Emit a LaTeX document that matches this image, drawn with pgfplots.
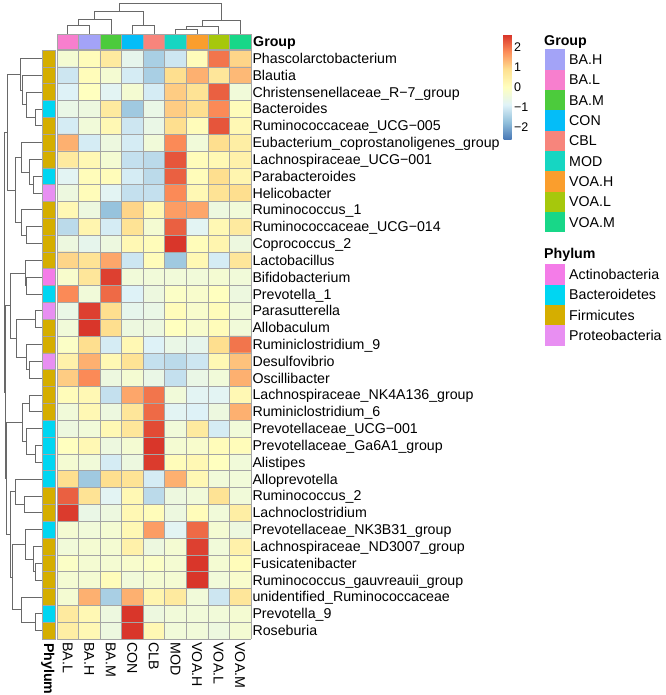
\documentclass[border=0pt]{standalone}
\usepackage{pgfplots}
\pgfplotsset{compat=1.18}
\usepackage{fontspec}
\setmainfont{Liberation Sans}
\definecolor{cellborder}{RGB}{165,165,165}
\definecolor{dendro}{RGB}{105,105,105}
\definecolor{gBAL}{HTML}{F77FCE}
\definecolor{gBAH}{HTML}{A3A3F7}
\definecolor{gBAM}{HTML}{4CCB3C}
\definecolor{gCON}{HTML}{04BDF8}
\definecolor{gCBL}{HTML}{F7857C}
\definecolor{gMOD}{HTML}{16D6C2}
\definecolor{gVOAH}{HTML}{FA9E2D}
\definecolor{gVOAL}{HTML}{A6C80C}
\definecolor{gVOAM}{HTML}{18D788}
\definecolor{pAct}{HTML}{F47CE8}
\definecolor{pBac}{HTML}{00D6F2}
\definecolor{pFir}{HTML}{D5AE00}
\definecolor{pPro}{HTML}{E88FF2}
\newcommand{\lab}{\fontsize{14.2bp}{17bp}\selectfont}
\newcommand{\cbl}{\fontsize{12.5bp}{15bp}\selectfont}
\pgfplotsset{
  blank/.style={hide axis, clip=false, scale only axis, anchor=south west},
  dend/.style={draw=dendro, line width=0.75bp},
}
\begin{document}
\begin{tikzpicture}
\useasboundingbox (0,0) rectangle (666bp,695bp);
% ---------------- heatmap ----------------
\begin{axis}[
  at={(57bp,56bp)}, anchor=south west, scale only axis, width=194bp, height=589bp,
  xmin=0.5, xmax=9.5, ymin=0.5, ymax=35.5, y dir=reverse,
  axis line style={draw=none}, major tick length=0pt, minor tick length=0pt,
  axis on top,
  minor xtick={0.5,1.5,...,9.5}, minor ytick={0.5,1.5,...,35.5},
  minor grid style={draw=cellborder, line width=0.6bp}, grid=minor,
  xtick={1,...,9}, xticklabels={BA.L,BA.H,BA.M,CON,CLB,MOD,VOA.H,VOA.L,VOA.M},
  xticklabel style={rotate=-90, anchor=west, font=\lab, text height=10bp, text depth=0bp},
  ytick={1,...,35}, yticklabel pos=right,
  yticklabels={Phascolarctobacterium,Blautia,Christensenellaceae\_R−7\_group,Bacteroides,Ruminococcaceae\_UCG−005,Eubacterium\_coprostanoligenes\_group,Lachnospiraceae\_UCG−001,Parabacteroides,Helicobacter,Ruminococcus\_1,Ruminococcaceae\_UCG−014,Coprococcus\_2,Lactobacillus,Bifidobacterium,Prevotella\_1,Parasutterella,Allobaculum,Ruminiclostridium\_9,Desulfovibrio,Oscillibacter,Lachnospiraceae\_NK4A136\_group,Ruminiclostridium\_6,Prevotellaceae\_UCG−001,Prevotellaceae\_Ga6A1\_group,Alistipes,Alloprevotella,Ruminococcus\_2,Lachnoclostridium,Prevotellaceae\_NK3B31\_group,Lachnospiraceae\_ND3007\_group,Fusicatenibacter,Ruminococcus\_gauvreauii\_group,unidentified\_Ruminococcaceae,Prevotella\_9,Roseburia},
  yticklabel style={anchor=west, font=\lab, text height=10bp, text depth=0bp, xshift=-2bp},
  colormap={rdylbu}{rgb255=(69,117,180) rgb255=(145,191,219) rgb255=(224,243,248) rgb255=(255,255,191) rgb255=(254,224,144) rgb255=(252,141,89) rgb255=(215,48,39)},
  point meta min=-2.65, point meta max=2.65,
  colorbar,
  colorbar style={
    at={(parent axis.north west)}, anchor=north west, xshift=438bp, yshift=16bp,
    width=8bp, height=106bp, scale only axis, grid=none,
    ytick={-2,-1,0,1,2}, yticklabels={−2,−1,0,1,2}, minor ytick={},
    major tick length=0pt, axis line style={draw=none},
    yticklabel style={font=\cbl, xshift=-1bp},
  },
]
\addplot[matrix plot*, mesh/cols=9, point meta=explicit] coordinates {
(1,1)[-0.3] (2,1)[0.1] (3,1)[0.6] (4,1)[-0.7] (5,1)[-1.5] (6,1)[-1.1] (7,1)[0.1] (8,1)[2.0] (9,1)[1.0]
(1,2)[-1.1] (2,2)[0.1] (3,2)[-0.3] (4,2)[-1.0] (5,2)[-1.5] (6,2)[0.9] (7,2)[1.4] (8,2)[0.7] (9,2)[1.3]
(1,3)[-0.9] (2,3)[0.0] (3,3)[-0.8] (4,3)[-0.3] (5,3)[-1.0] (6,3)[1.1] (7,3)[0.8] (8,3)[2.2] (9,3)[-0.4]
(1,4)[-0.6] (2,4)[-0.5] (3,4)[0.6] (4,4)[-1.6] (5,4)[-0.6] (6,4)[1.1] (7,4)[0.9] (8,4)[1.8] (9,4)[0.1]
(1,5)[-1.0] (2,5)[-0.4] (3,5)[0.2] (4,5)[-1.1] (5,5)[-0.6] (6,5)[0.9] (7,5)[0.1] (8,5)[2.3] (9,5)[0.2]
(1,6)[1.4] (2,6)[-1.0] (3,6)[-0.5] (4,6)[-1.0] (5,6)[-0.4] (6,6)[1.8] (7,6)[-0.4] (8,6)[0.9] (9,6)[0.5]
(1,7)[0.6] (2,7)[0.2] (3,7)[-0.3] (4,7)[-1.2] (5,7)[-1.3] (6,7)[2.3] (7,7)[0.1] (8,7)[0.2] (9,7)[0.4]
(1,8)[-0.8] (2,8)[0.1] (3,8)[0.1] (4,8)[-1.0] (5,8)[-1.3] (6,8)[2.2] (7,8)[0.1] (8,8)[0.9] (9,8)[0.3]
(1,9)[-0.5] (2,9)[0.1] (3,9)[-0.8] (4,9)[-1.2] (5,9)[-1.2] (6,9)[1.8] (7,9)[0.2] (8,9)[0.8] (9,9)[0.9]
(1,10)[0.2] (2,10)[-0.5] (3,10)[-1.7] (4,10)[1.0] (5,10)[0.2] (6,10)[1.6] (7,10)[1.5] (8,10)[-0.5] (9,10)[-0.4]
(1,11)[-1.3] (2,11)[0.3] (3,11)[-1.0] (4,11)[0.8] (5,11)[-0.3] (6,11)[2.2] (7,11)[-0.8] (8,11)[0.2] (9,11)[0.6]
(1,12)[-0.5] (2,12)[-0.7] (3,12)[-0.5] (4,12)[0.2] (5,12)[0.1] (6,12)[2.6] (7,12)[0.1] (8,12)[0.3] (9,12)[-0.5]
(1,13)[1.0] (2,13)[0.8] (3,13)[1.5] (4,13)[-1.1] (5,13)[0.1] (6,13)[-1.6] (7,13)[0.2] (8,13)[-1.0] (9,13)[0.7]
(1,14)[-0.2] (2,14)[0.7] (3,14)[2.5] (4,14)[-0.4] (5,14)[-0.4] (6,14)[-0.4] (7,14)[-0.4] (8,14)[-0.3] (9,14)[-0.4]
(1,15)[1.8] (2,15)[-0.4] (3,15)[2.1] (4,15)[-0.9] (5,15)[-0.5] (6,15)[-0.1] (7,15)[-0.2] (8,15)[0.0] (9,15)[-0.5]
(1,16)[-0.6] (2,16)[2.5] (3,16)[0.9] (4,16)[-0.7] (5,16)[-0.6] (6,16)[0.1] (7,16)[-0.2] (8,16)[0.1] (9,16)[-0.4]
(1,17)[-0.4] (2,17)[2.6] (3,17)[0.9] (4,17)[-0.5] (5,17)[-0.5] (6,17)[0.0] (7,17)[-0.2] (8,17)[0.1] (9,17)[-0.4]
(1,18)[-0.1] (2,18)[0.9] (3,18)[-1.0] (4,18)[0.2] (5,18)[-0.9] (6,18)[-0.6] (7,18)[-0.7] (8,18)[0.9] (9,18)[2.0]
(1,19)[0.4] (2,19)[1.4] (3,19)[0.2] (4,19)[0.8] (5,19)[-1.2] (6,19)[-1.3] (7,19)[-1.1] (8,19)[0.2] (9,19)[1.2]
(1,20)[1.1] (2,20)[1.8] (3,20)[-0.5] (4,20)[-0.3] (5,20)[-0.6] (6,20)[-1.2] (7,20)[-0.6] (8,20)[-0.4] (9,20)[1.4]
(1,21)[0.1] (2,21)[0.2] (3,21)[-1.2] (4,21)[1.5] (5,21)[2.0] (6,21)[-0.4] (7,21)[-0.8] (8,21)[-0.8] (9,21)[0.2]
(1,22)[-0.4] (2,22)[0.2] (3,22)[-0.5] (4,22)[0.7] (5,22)[2.1] (6,22)[-0.8] (7,22)[-0.9] (8,22)[-0.5] (9,22)[1.4]
(1,23)[-0.5] (2,23)[-0.4] (3,23)[0.2] (4,23)[0.7] (5,23)[2.4] (6,23)[-0.4] (7,23)[0.6] (8,23)[-1.0] (9,23)[-0.4]
(1,24)[0.0] (2,24)[0.2] (3,24)[-0.5] (4,24)[-0.3] (5,24)[2.6] (6,24)[-0.3] (7,24)[-0.2] (8,24)[0.1] (9,24)[0.1]
(1,25)[-0.3] (2,25)[-0.4] (3,25)[-1.0] (4,25)[-0.5] (5,25)[2.55] (6,25)[0.1] (7,25)[0.2] (8,25)[0.0] (9,25)[-0.4]
(1,26)[0.9] (2,26)[-1.6] (3,26)[0.9] (4,26)[0.8] (5,26)[-1.0] (6,26)[1.4] (7,26)[0.2] (8,26)[-0.4] (9,26)[-0.4]
(1,27)[2.2] (2,27)[0.8] (3,27)[-0.8] (4,27)[0.2] (5,27)[-1.3] (6,27)[-0.5] (7,27)[-0.4] (8,27)[0.8] (9,27)[-0.4]
(1,28)[2.55] (2,28)[-0.6] (3,28)[-0.5] (4,28)[0.2] (5,28)[0.1] (6,28)[-0.5] (7,28)[0.1] (8,28)[-0.4] (9,28)[0.5]
(1,29)[-0.3] (2,29)[-0.4] (3,29)[-0.3] (4,29)[0.2] (5,29)[1.6] (6,29)[-0.8] (7,29)[2.1] (8,29)[-0.3] (9,29)[-0.5]
(1,30)[-0.4] (2,30)[-0.3] (3,30)[-0.3] (4,30)[0.4] (5,30)[-0.5] (6,30)[-0.3] (7,30)[2.5] (8,30)[-0.4] (9,30)[0.4]
(1,31)[-0.1] (2,31)[-0.3] (3,31)[-0.3] (4,31)[-0.2] (5,31)[-0.1] (6,31)[-0.3] (7,31)[2.6] (8,31)[-0.3] (9,31)[0.1]
(1,32)[-0.3] (2,32)[-0.3] (3,32)[0.1] (4,32)[-0.4] (5,32)[-0.3] (6,32)[-0.3] (7,32)[2.6] (8,32)[-0.4] (9,32)[-0.2]
(1,33)[-0.3] (2,33)[1.4] (3,33)[-1.5] (4,33)[1.4] (5,33)[0.3] (6,33)[0.6] (7,33)[-0.4] (8,33)[-1.1] (9,33)[0.7]
(1,34)[0.6] (2,34)[0.2] (3,34)[-0.5] (4,34)[2.6] (5,34)[-0.5] (6,34)[-0.4] (7,34)[-0.4] (8,34)[-0.4] (9,34)[-0.3]
(1,35)[0.5] (2,35)[0.2] (3,35)[-0.5] (4,35)[2.6] (5,35)[0.2] (6,35)[-0.4] (7,35)[-0.4] (8,35)[-0.5] (9,35)[-0.3]
};
\end{axis}
% ---------------- group annotation ----------------
\begin{axis}[blank, at={(57bp,646bp)}, width=194bp, height=15bp,
  xmin=0.5, xmax=9.5, ymin=0, ymax=1, ybar, bar width=1, bar shift=0pt]
\addplot[fill=gBAL, draw=cellborder, line width=0.6bp] coordinates {(1,1)};
\addplot[fill=gBAH, draw=cellborder, line width=0.6bp] coordinates {(2,1)};
\addplot[fill=gBAM, draw=cellborder, line width=0.6bp] coordinates {(3,1)};
\addplot[fill=gCON, draw=cellborder, line width=0.6bp] coordinates {(4,1)};
\addplot[fill=gCBL, draw=cellborder, line width=0.6bp] coordinates {(5,1)};
\addplot[fill=gMOD, draw=cellborder, line width=0.6bp] coordinates {(6,1)};
\addplot[fill=gVOAH, draw=cellborder, line width=0.6bp] coordinates {(7,1)};
\addplot[fill=gVOAL, draw=cellborder, line width=0.6bp] coordinates {(8,1)};
\addplot[fill=gVOAM, draw=cellborder, line width=0.6bp] coordinates {(9,1)};
\end{axis}
% ---------------- phylum annotation ----------------
\begin{axis}[blank, at={(42bp,56bp)}, width=13bp, height=589bp,
  xmin=0, xmax=1, ymin=0.5, ymax=35.5, y dir=reverse, xbar, bar width=1, bar shift=0pt]
\addplot[fill=pFir, draw=cellborder, line width=0.6bp] coordinates {(1,1)(1,2)(1,3)(1,5)(1,6)(1,7)(1,10)(1,11)(1,12)(1,13)(1,17)(1,18)(1,20)(1,21)(1,22)(1,27)(1,28)(1,30)(1,31)(1,32)(1,33)(1,35)};
\addplot[fill=pBac, draw=cellborder, line width=0.6bp] coordinates {(1,4)(1,8)(1,15)(1,23)(1,24)(1,25)(1,26)(1,29)(1,34)};
\addplot[fill=pPro, draw=cellborder, line width=0.6bp] coordinates {(1,9)(1,16)(1,19)};
\addplot[fill=pAct, draw=cellborder, line width=0.6bp] coordinates {(1,14)};
\end{axis}
% ---------------- row dendrogram ----------------
\begin{axis}[blank, at={(0bp,56bp)}, width=42bp, height=589bp,
  xmin=0, xmax=42, ymin=0.5, ymax=35.5, y dir=reverse]
\addplot[dend] coordinates {(42,4)(35,4)(35,5)(42,5)};
\addplot[dend] coordinates {(42,3)(26.7,3)(26.7,4.5)(35,4.5)};
\addplot[dend] coordinates {(42,2)(22.7,2)(22.7,3.75)(26.7,3.75)};
\addplot[dend] coordinates {(42,1)(20.7,1)(20.7,2.875)(22.7,2.875)};
\addplot[dend] coordinates {(42,8)(33.3,8)(33.3,9)(42,9)};
\addplot[dend] coordinates {(42,7)(29.3,7)(29.3,8.5)(33.3,8.5)};
\addplot[dend] coordinates {(42,6)(21.7,6)(21.7,7.75)(29.3,7.75)};
\addplot[dend] coordinates {(42,11)(26.7,11)(26.7,12)(42,12)};
\addplot[dend] coordinates {(42,10)(21,10)(21,11.5)(26.7,11.5)};
\addplot[dend] coordinates {(21.7,6.875)(15,6.875)(15,10.75)(21,10.75)};
\addplot[dend] coordinates {(20.7,1.9375)(7.3,1.9375)(7.3,8.8125)(15,8.8125)};
\addplot[dend] coordinates {(42,14)(26,14)(26,15)(42,15)};
\addplot[dend] coordinates {(42,13)(25,13)(25,14.5)(26,14.5)};
\addplot[dend] coordinates {(42,16)(35,16)(35,17)(42,17)};
\addplot[dend] coordinates {(42,19)(29.3,19)(29.3,20)(42,20)};
\addplot[dend] coordinates {(42,18)(26,18)(26,19.5)(29.3,19.5)};
\addplot[dend] coordinates {(35,16.5)(16.7,16.5)(16.7,18.75)(26,18.75)};
\addplot[dend] coordinates {(25,13.75)(10,13.75)(10,17.625)(16.7,17.625)};
\addplot[dend] coordinates {(42,21)(29.3,21)(29.3,22)(42,22)};
\addplot[dend] coordinates {(42,24)(35,24)(35,25)(42,25)};
\addplot[dend] coordinates {(42,23)(26.7,23)(26.7,24.5)(35,24.5)};
\addplot[dend] coordinates {(29.3,21.5)(22.7,21.5)(22.7,23.75)(26.7,23.75)};
\addplot[dend] coordinates {(42,27)(24,27)(24,28)(42,28)};
\addplot[dend] coordinates {(42,26)(15,26)(15,27.5)(24,27.5)};
\addplot[dend] coordinates {(42,31)(35,31)(35,32)(42,32)};
\addplot[dend] coordinates {(42,30)(33.3,30)(33.3,31.5)(35,31.5)};
\addplot[dend] coordinates {(42,29)(25,29)(25,30.75)(33.3,30.75)};
\addplot[dend] coordinates {(42,34)(35,34)(35,35)(42,35)};
\addplot[dend] coordinates {(42,33)(21.7,33)(21.7,34.5)(35,34.5)};
\addplot[dend] coordinates {(25,29.875)(12,29.875)(12,33.75)(21.7,33.75)};
\addplot[dend] coordinates {(15,26.75)(10,26.75)(10,31.8125)(12,31.8125)};
\addplot[dend] coordinates {(22.7,22.625)(6,22.625)(6,29.28)(10,29.28)};
\addplot[dend] coordinates {(10,15.6875)(5.3,15.6875)(5.3,25.95)(6,25.95)};
\addplot[dend] coordinates {(7.3,5.375)(4,5.375)(4,20.82)(5.3,20.82)};
\end{axis}
% ---------------- column dendrogram ----------------
\begin{axis}[blank, at={(57bp,661bp)}, width=194bp, height=34bp,
  xmin=0.5, xmax=9.5, ymin=0, ymax=34, y dir=reverse]
\addplot[dend] coordinates {(1,34)(1,25)(2,25)(2,34)};
\addplot[dend] coordinates {(1.5,25)(1.5,19)(3,19)(3,34)};
\addplot[dend] coordinates {(4,34)(4,25)(5,25)(5,34)};
\addplot[dend] coordinates {(2.25,19)(2.25,11.7)(4.5,11.7)(4.5,25)};
\addplot[dend] coordinates {(6,34)(6,29)(7,29)(7,34)};
\addplot[dend] coordinates {(6.5,29)(6.5,26)(8,26)(8,34)};
\addplot[dend] coordinates {(7.25,26)(7.25,20)(9,20)(9,34)};
\addplot[dend] coordinates {(3.375,11.7)(3.375,3)(8.125,3)(8.125,20)};
\end{axis}
% ---------------- legends and labels ----------------
\begin{axis}[blank, at={(0bp,0bp)}, width=666bp, height=695bp,
  xmin=0, xmax=666, ymin=0, ymax=695, y dir=reverse]
\addplot[fill=gBAH, draw=none] coordinates {(545,49.4)(565,49.4)(565,69.7)(545,69.7)} -- cycle;
\addplot[fill=gBAL, draw=none] coordinates {(545,69.7)(565,69.7)(565,90.0)(545,90.0)} -- cycle;
\addplot[fill=gBAM, draw=none] coordinates {(545,90.0)(565,90.0)(565,110.3)(545,110.3)} -- cycle;
\addplot[fill=gCON, draw=none] coordinates {(545,110.3)(565,110.3)(565,130.6)(545,130.6)} -- cycle;
\addplot[fill=gCBL, draw=none] coordinates {(545,130.6)(565,130.6)(565,150.9)(545,150.9)} -- cycle;
\addplot[fill=gMOD, draw=none] coordinates {(545,150.9)(565,150.9)(565,171.2)(545,171.2)} -- cycle;
\addplot[fill=gVOAH, draw=none] coordinates {(545,171.2)(565,171.2)(565,191.5)(545,191.5)} -- cycle;
\addplot[fill=gVOAL, draw=none] coordinates {(545,191.5)(565,191.5)(565,211.8)(545,211.8)} -- cycle;
\addplot[fill=gVOAM, draw=none] coordinates {(545,211.8)(565,211.8)(565,232.1)(545,232.1)} -- cycle;
\addplot[fill=pAct, draw=none] coordinates {(545,264.4)(565,264.4)(565,284.7)(545,284.7)} -- cycle;
\addplot[fill=pBac, draw=none] coordinates {(545,284.7)(565,284.7)(565,305.0)(545,305.0)} -- cycle;
\addplot[fill=pFir, draw=none] coordinates {(545,305.0)(565,305.0)(565,325.3)(545,325.3)} -- cycle;
\addplot[fill=pPro, draw=none] coordinates {(545,325.3)(565,325.3)(565,345.6)(545,345.6)} -- cycle;
\node[anchor=base west, font=\lab\bfseries, inner sep=0pt] at (axis cs:544,45.5) {Group};
\node[anchor=base west, font=\lab\bfseries, inner sep=0pt] at (axis cs:544,258) {Phylum};
\node[anchor=base west, font=\lab, inner sep=0pt] at (axis cs:569,64.6) {BA.H};
\node[anchor=base west, font=\lab, inner sep=0pt] at (axis cs:569,84.9) {BA.L};
\node[anchor=base west, font=\lab, inner sep=0pt] at (axis cs:569,105.2) {BA.M};
\node[anchor=base west, font=\lab, inner sep=0pt] at (axis cs:569,125.5) {CON};
\node[anchor=base west, font=\lab, inner sep=0pt] at (axis cs:569,145.8) {CBL};
\node[anchor=base west, font=\lab, inner sep=0pt] at (axis cs:569,166.1) {MOD};
\node[anchor=base west, font=\lab, inner sep=0pt] at (axis cs:569,186.4) {VOA.H};
\node[anchor=base west, font=\lab, inner sep=0pt] at (axis cs:569,206.7) {VOA.L};
\node[anchor=base west, font=\lab, inner sep=0pt] at (axis cs:569,227.0) {VOA.M};
\node[anchor=base west, font=\lab, inner sep=0pt] at (axis cs:569,279.6) {Actinobacteria};
\node[anchor=base west, font=\lab, inner sep=0pt] at (axis cs:569,299.9) {Bacteroidetes};
\node[anchor=base west, font=\lab, inner sep=0pt] at (axis cs:569,320.2) {Firmicutes};
\node[anchor=base west, font=\lab, inner sep=0pt] at (axis cs:569,340.5) {Proteobacteria};
\node[anchor=base west, font=\lab\bfseries, inner sep=0pt] at (axis cs:253,47) {Group};
\node[rotate=-90, anchor=west, font=\lab\bfseries, inner sep=0pt, text height=10bp, text depth=0bp] at (axis cs:49,643) {Phylum};
\end{axis}
\end{tikzpicture}
\end{document}
